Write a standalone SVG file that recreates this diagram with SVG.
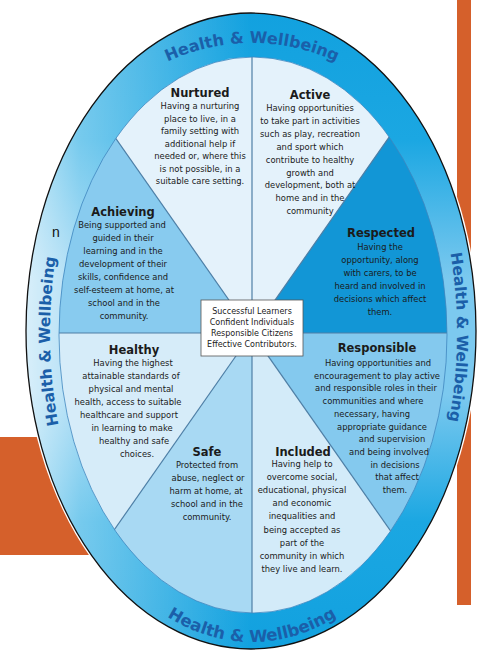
<svg xmlns="http://www.w3.org/2000/svg" width="479" height="650" viewBox="0 0 479 650">
<defs>
<style>
.ttl{font-family:"DejaVu Sans",sans-serif;font-weight:bold;font-size:11.5px;fill:#1b1b1b;text-anchor:middle}
.bd{font-family:"DejaVu Sans",sans-serif;font-size:8.4px;fill:#1a1a1a;text-anchor:middle}
.hw{font-family:"DejaVu Sans",sans-serif;font-weight:bold;font-size:16px;fill:#1b5fa9}
.bx{font-family:"DejaVu Sans",sans-serif;font-size:8px;fill:#222;text-anchor:middle}
.dv{stroke:#4f7fa6;stroke-width:1.2;fill:none}
.org{fill:#d5602b}
</style>
<linearGradient id="ringG" x1="0" y1="0" x2="0" y2="1">
<stop offset="0" stop-color="#12a1df"/>
<stop offset="0.2" stop-color="#1ba7e2"/>
<stop offset="0.42" stop-color="#7cc9ef"/>
<stop offset="0.6" stop-color="#7cc9ef"/>
<stop offset="0.8" stop-color="#1ba7e2"/>
<stop offset="1" stop-color="#12a1df"/>
</linearGradient>
<linearGradient id="ringH" x1="0" y1="0" x2="1" y2="0">
<stop offset="0" stop-color="#fff" stop-opacity="0.7"/>
<stop offset="0.12" stop-color="#fff" stop-opacity="0.4"/>
<stop offset="0.5" stop-color="#fff" stop-opacity="0"/>
<stop offset="1" stop-color="#fff" stop-opacity="0"/>
</linearGradient>
<clipPath id="innerClip"><ellipse cx="253" cy="335" rx="194" ry="278"/></clipPath>
<path id="pTop" d="M 12,333 A 240 290 0 0 1 492,333"/>
<path id="pBot" d="M 38,333 A 214 309 0 0 0 466,333"/>
<path id="pLeft" d="M 252,653 A 202 320 0 0 1 252,13"/>
<path id="pRight" d="M 252,13 A 205 320 0 0 1 252,653"/>
</defs>
<rect width="479" height="650" fill="#fff"/>
<g id="background">
<rect class="org" x="457" y="0" width="14" height="605"/>
<rect class="org" x="0" y="437" width="135" height="118"/>
</g>
<g id="ring">
<ellipse cx="251" cy="331" rx="227" ry="320" fill="#fff"/>
<ellipse cx="251" cy="331" rx="225" ry="318" fill="url(#ringG)"/>
<ellipse cx="251" cy="331" rx="225" ry="318" fill="url(#ringH)" stroke="#111" stroke-width="1.3"/>
<text class="hw"><textPath href="#pTop" startOffset="50%" text-anchor="middle">Health &amp; Wellbeing</textPath></text>
<text class="hw" style="font-size:16.5px"><textPath href="#pBot" startOffset="50%" text-anchor="middle">Health &amp; Wellbeing</textPath></text>
<text class="hw" style="font-size:15.5px"><textPath href="#pLeft" startOffset="49%" text-anchor="middle">Health &amp; Wellbeing</textPath></text>
<text class="hw" style="font-size:15.5px"><textPath href="#pRight" startOffset="50.5%" text-anchor="middle">Health &amp; Wellbeing</textPath></text>
<text x="52" y="237" style="font-family:'Liberation Sans',sans-serif;font-size:14px;fill:#111">n</text>
</g>
<g clip-path="url(#innerClip)">
<g id="nurtured"><polygon points="252,333 -168,-267 252,-267" fill="#e4f2fb"/></g>
<g id="active"><polygon points="252,333 252,-267 672,-267" fill="#e4f2fb"/></g>
<g id="respected"><polygon points="252,333 672,-267 700,-267 700,333" fill="#1296d6"/></g>
<g id="responsible"><polygon points="252,333 700,333 700,933 672,933" fill="#84c9ee"/></g>
<g id="included"><polygon points="252,333 672,933 252,933" fill="#d3ebf9"/></g>
<g id="safe"><polygon points="252,333 252,933 -168,933" fill="#a8d9f3"/></g>
<g id="healthy"><polygon points="252,333 -168,933 -200,933 -200,333" fill="#d6ecf9"/></g>
<g id="achieving"><polygon points="252,333 -200,333 -200,-267 -168,-267" fill="#88cbef"/></g>
<g id="connectors">
<line class="dv" x1="252" y1="333" x2="252" y2="0"/>
<line class="dv" x1="252" y1="333" x2="252" y2="650"/>
<line class="dv" x1="252" y1="333" x2="0" y2="333"/>
<line class="dv" x1="252" y1="333" x2="479" y2="333"/>
<line class="dv" x1="252" y1="333" x2="-168" y2="-267"/>
<line class="dv" x1="252" y1="333" x2="672" y2="-267"/>
<line class="dv" x1="252" y1="333" x2="-168" y2="933"/>
<line class="dv" x1="252" y1="333" x2="672" y2="933"/>
</g>
</g>
<ellipse cx="253" cy="335" rx="194" ry="278" fill="none" stroke="#3f86bf" stroke-width="0.8"/>
<g id="nurtured-text">
<text class="ttl" x="200" y="97">Nurtured</text>
<text class="bd" x="200" y="109">Having a nurturing</text>
<text class="bd" x="200" y="121.5">place to live, in a</text>
<text class="bd" x="200" y="134">family setting with</text>
<text class="bd" x="200" y="146.5">additional help if</text>
<text class="bd" x="200" y="159">needed or, where this</text>
<text class="bd" x="200" y="171.5">is not possible, in a</text>
<text class="bd" x="200" y="184">suitable care setting.</text>
</g>
<g id="active-text">
<text class="ttl" x="310" y="99">Active</text>
<text class="bd" x="310" y="111">Having opportunities</text>
<text class="bd" x="310" y="123.9">to take part in activities</text>
<text class="bd" x="310" y="136.8">such as play, recreation</text>
<text class="bd" x="310" y="149.7">and sport which</text>
<text class="bd" x="310" y="162.6">contribute to healthy</text>
<text class="bd" x="310" y="175.5">growth and</text>
<text class="bd" x="310" y="188.4">development, both at</text>
<text class="bd" x="310" y="201.3">home and in the</text>
<text class="bd" x="310" y="214.2">community</text>
</g>
<g id="achieving-text">
<text class="ttl" x="123" y="216">Achieving</text>
<text class="bd" x="122" y="228">Being supported and</text>
<text class="bd" x="123" y="241">guided in their</text>
<text class="bd" x="123" y="254">learning and in the</text>
<text class="bd" x="123" y="267">development of their</text>
<text class="bd" x="123" y="280">skills, confidence and</text>
<text class="bd" x="124" y="293">self-esteem at home, at</text>
<text class="bd" x="124" y="306">school and in the</text>
<text class="bd" x="124" y="319">community.</text>
</g>
<g id="respected-text">
<text class="ttl" x="381" y="237">Respected</text>
<text class="bd" x="380" y="250">Having the</text>
<text class="bd" x="380" y="263">opportunity, along</text>
<text class="bd" x="380" y="276">with carers, to be</text>
<text class="bd" x="380" y="289">heard and involved in</text>
<text class="bd" x="380" y="302">decisions which affect</text>
<text class="bd" x="380" y="315">them.</text>
</g>
<g id="healthy-text">
<text class="ttl" x="134" y="354">Healthy</text>
<text class="bd" x="133" y="366">Having the highest</text>
<text class="bd" x="131" y="379">attainable standards of</text>
<text class="bd" x="131" y="392">physical and mental</text>
<text class="bd" x="128" y="405">health, access to suitable</text>
<text class="bd" x="129" y="418">healthcare and support</text>
<text class="bd" x="132" y="431">in learning to make</text>
<text class="bd" x="134" y="444">healthy and safe</text>
<text class="bd" x="137" y="457">choices.</text>
</g>
<g id="responsible-text">
<text class="ttl" x="377" y="352">Responsible</text>
<text class="bd" x="378" y="366">Having opportunities and</text>
<text class="bd" x="377" y="378.7">encouragement to play active</text>
<text class="bd" x="376" y="391.4">and responsible roles in their</text>
<text class="bd" x="373" y="404.1">communities and where</text>
<text class="bd" x="372" y="416.8">necessary, having</text>
<text class="bd" x="382" y="429.5">appropriate guidance</text>
<text class="bd" x="392" y="442.2">and supervision</text>
<text class="bd" x="389" y="454.9">and being involved</text>
<text class="bd" x="395" y="467.6">in decisions</text>
<text class="bd" x="397" y="480.3">that affect</text>
<text class="bd" x="395" y="493">them.</text>
</g>
<g id="safe-text">
<text class="ttl" x="207" y="456">Safe</text>
<text class="bd" x="207" y="468">Protected from</text>
<text class="bd" x="208" y="481">abuse, neglect or</text>
<text class="bd" x="206" y="494">harm at home, at</text>
<text class="bd" x="207" y="507">school and in the</text>
<text class="bd" x="207" y="520">community.</text>
</g>
<g id="included-text">
<text class="ttl" x="303" y="456">Included</text>
<text class="bd" x="302" y="467">Having help to</text>
<text class="bd" x="302" y="480.1">overcome social,</text>
<text class="bd" x="302" y="493.2">educational, physical</text>
<text class="bd" x="302" y="506.3">and economic</text>
<text class="bd" x="302" y="519.4">inequalities and</text>
<text class="bd" x="302" y="532.5">being accepted as</text>
<text class="bd" x="302" y="545.6">part of the</text>
<text class="bd" x="302" y="558.7">community in which</text>
<text class="bd" x="302" y="571.8">they live and learn.</text>
</g>
<g id="centre">
<rect x="201" y="300" width="102" height="56" fill="#fff" stroke="#555" stroke-width="0.8"/>
<text class="bx" x="252" y="314">Successful Learners</text>
<text class="bx" x="252" y="325">Confident Individuals</text>
<text class="bx" x="252" y="336">Responsible Citizens</text>
<text class="bx" x="252" y="347">Effective Contributors.</text>
</g>
</svg>
